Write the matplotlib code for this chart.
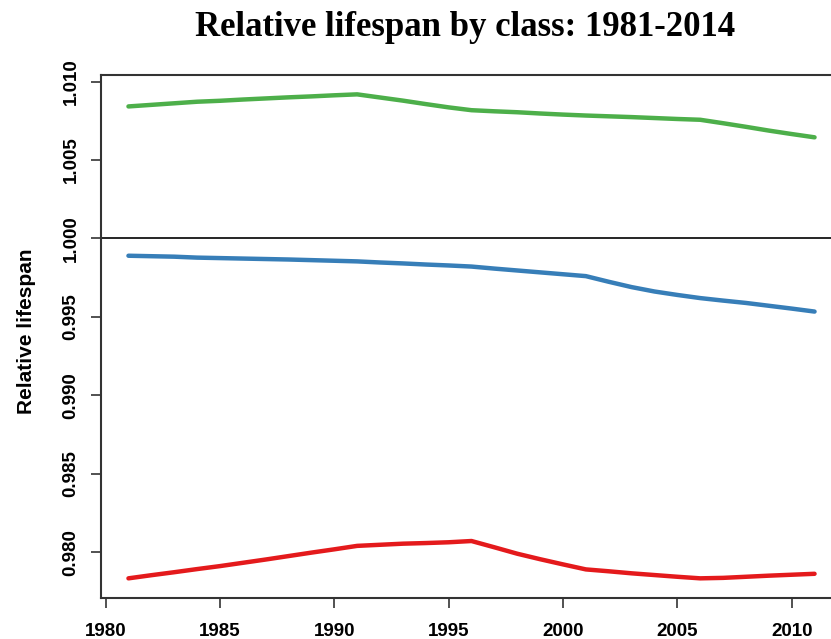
import matplotlib
matplotlib.use('Agg')
import matplotlib.pyplot as plt

# ────── data ──────
years = list(range(1981, 2012))

upper = [1.00842, 1.00852, 1.00862, 1.00872, 1.00878, 1.00886, 1.00893, 1.00900,
         1.00906, 1.00913, 1.00919, 1.00899, 1.00879, 1.00857, 1.00836, 1.00818,
         1.00811, 1.00805, 1.00797, 1.00790, 1.00784, 1.00779, 1.00774, 1.00768,
         1.00762, 1.00757, 1.00735, 1.00712, 1.00688, 1.00666, 1.00645]

middle = [0.99890, 0.99887, 0.99884, 0.99878, 0.99875, 0.99872, 0.99869, 0.99866,
          0.99862, 0.99858, 0.99854, 0.99847, 0.99841, 0.99834, 0.99828, 0.99821,
          0.99808, 0.99796, 0.99784, 0.99772, 0.99760, 0.99724, 0.99690, 0.99662,
          0.99640, 0.99620, 0.99604, 0.99589, 0.99571, 0.99553, 0.99534]

lower = [0.97833, 0.97853, 0.97872, 0.97892, 0.97911, 0.97932, 0.97953, 0.97975,
         0.97997, 0.98018, 0.98040, 0.98047, 0.98054, 0.98058, 0.98063, 0.98071,
         0.98031, 0.97990, 0.97955, 0.97922, 0.97890, 0.97878, 0.97865, 0.97854,
         0.97843, 0.97833, 0.97836, 0.97843, 0.97850, 0.97856, 0.97862]

xticks = [1980, 1985, 1990, 1995, 2000, 2005, 2010]
yticks = [0.980, 0.985, 0.990, 0.995, 1.000, 1.005, 1.010]

# ────── figure ──────
W, H = 831, 639
fig = plt.figure(figsize=(W / 100, H / 100), dpi=100)
# right edge of the plot box lies past the image edge (cropped original)
ax = fig.add_axes([101 / W, (H - 597.7) / H, (842 - 101) / W, (597.7 - 75) / H])

ax.plot(years, upper, color='#4daf4a', lw=3.2, solid_capstyle='round')
ax.plot(years, middle, color='#377eb8', lw=3.2, solid_capstyle='round')
ax.plot(years, lower, color='#e41a1c', lw=3.2, solid_capstyle='round')
ax.axhline(1.0, color='black', lw=1.2)

# R style 4% padding on both axes
lo = min(lower + middle + upper)
hi = max(lower + middle + upper)
pad = 0.04 * (hi - lo)
ax.set_ylim(lo - pad, hi + pad)
xpad = 0.04 * (years[-1] - years[0])
ax.set_xlim(years[0] - xpad, years[-1] + xpad)

tick_font = dict(family='Liberation Sans', weight='bold', size=13.5)
ax.set_xticks(xticks)
ax.set_xticklabels([str(x) for x in xticks], **tick_font)
ax.set_yticks(yticks)
ax.set_yticklabels(['%.3f' % y for y in yticks], rotation=90, va='center', **tick_font)
ax.tick_params(direction='out', length=7, width=1.2, color='#333333')
ax.tick_params(axis='x', pad=11)
ax.tick_params(axis='y', pad=8.5)

for s in ax.spines.values():
    s.set_linewidth(1.5)
    s.set_color('#333333')

fig.text(26 / W, (H - 331) / H, 'Relative lifespan', rotation=90,
         ha='center', va='center', family='Liberation Sans', weight='bold', size=15)
fig.text(465.5 / W, (H - 36) / H, 'Relative lifespan by class: 1981-2014',
         ha='center', va='baseline', family='Liberation Serif', weight='bold', size=25)

fig.savefig('out.png', dpi=100)
